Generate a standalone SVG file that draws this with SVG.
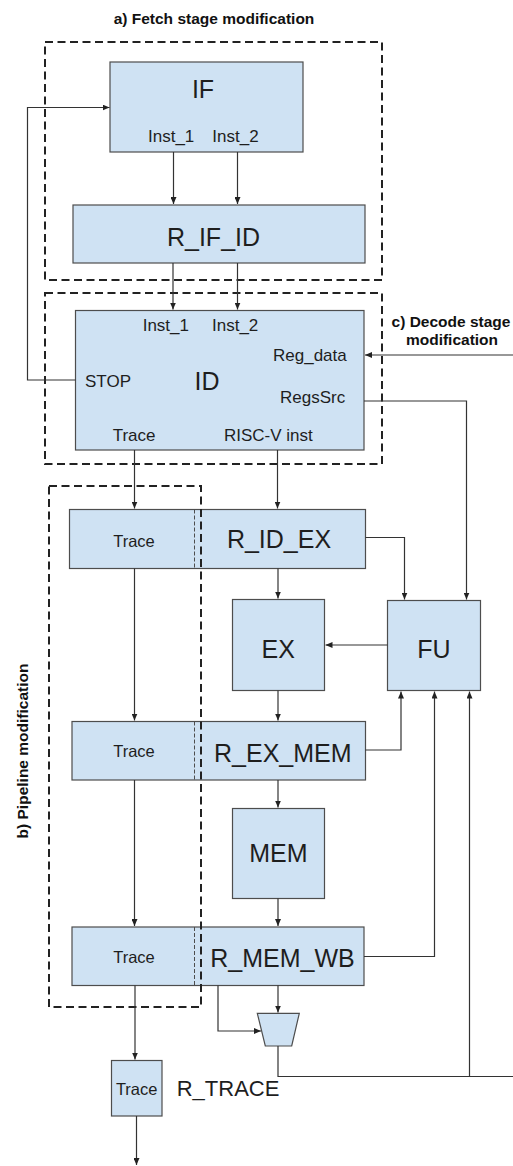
<svg xmlns="http://www.w3.org/2000/svg" width="513" height="1166" viewBox="0 0 513 1166">
<style>
.box{fill:#cfe2f3;stroke:#4d4d4d;stroke-width:1.2}
.div{stroke:#4d4d4d;stroke-width:1;stroke-dasharray:4 2;fill:none}
.grp{fill:none;stroke:#222;stroke-width:2;stroke-dasharray:8 4.5}
.ln{fill:none;stroke:#333;stroke-width:1.2}
.arr{marker-end:url(#ah)}
text{font-family:"Liberation Sans",Arial,sans-serif;fill:#1e1e1e}
.big{font-size:25px;text-anchor:middle}
.lbl{font-size:17px}
.tr{font-size:16.5px;text-anchor:middle}
.cap{font-size:15.5px;font-weight:bold;text-anchor:middle;fill:#111}
</style>
<defs>
<marker id="ah" markerUnits="userSpaceOnUse" markerWidth="7" markerHeight="6" refX="7" refY="3" orient="auto">
<path d="M0,0 L7,3 L0,6 z" fill="#222"/>
</marker>
</defs>
<rect width="513" height="1166" fill="#fff"/>

<g id="labels">
<text class="cap" x="214" y="24">a) Fetch stage modification</text>
<text class="cap" x="451" y="327.3">c) Decode stage</text>
<text class="cap" x="452" y="345">modification</text>
<text class="cap" transform="translate(28,751) rotate(-90)">b) Pipeline modification</text>
</g>

<g id="IF">
<rect class="box" x="110" y="62" width="193" height="90"/>
<text class="big" x="203" y="98">IF</text>
<text class="lbl" x="148" y="142">Inst_1</text>
<text class="lbl" x="212.3" y="142">Inst_2</text>
</g>

<g id="R_IF_ID">
<rect class="box" x="73" y="205" width="292" height="58"/>
<text class="big" x="213.5" y="246">R_IF_ID</text>
</g>

<g id="ID">
<rect class="box" x="75.5" y="310.5" width="288.5" height="139.5"/>
<text class="lbl" x="142.7" y="330.7">Inst_1</text>
<text class="lbl" x="212" y="330.7">Inst_2</text>
<text class="lbl" x="273" y="361">Reg_data</text>
<text class="lbl" x="85" y="386.7">STOP</text>
<text class="big" x="207" y="390">ID</text>
<text class="lbl" x="280" y="403">RegsSrc</text>
<text class="lbl" x="112.7" y="441">Trace</text>
<text class="lbl" x="224" y="441">RISC-V inst</text>
</g>

<g id="R_ID_EX">
<rect class="box" x="69.5" y="509.5" width="296" height="59"/>
<line class="div" x1="194.5" y1="509.5" x2="194.5" y2="568.5"/>
<text class="tr" x="134" y="546.7">Trace</text>
<text class="big" x="279" y="548">R_ID_EX</text>
</g>

<g id="EX">
<rect class="box" x="232.5" y="599.5" width="92" height="91"/>
<text class="big" x="278.3" y="658.3">EX</text>
</g>

<g id="FU">
<rect class="box" x="387.5" y="600.5" width="93" height="90"/>
<text class="big" x="434" y="658">FU</text>
</g>

<g id="R_EX_MEM">
<rect class="box" x="72" y="721.5" width="293.5" height="58.5"/>
<line class="div" x1="194.5" y1="721.5" x2="194.5" y2="780"/>
<text class="tr" x="134" y="757.3">Trace</text>
<text class="big" x="282.8" y="761.7">R_EX_MEM</text>
</g>

<g id="MEM">
<rect class="box" x="232.5" y="808.5" width="92" height="90"/>
<text class="big" x="278.3" y="862.3">MEM</text>
</g>

<g id="R_MEM_WB">
<rect class="box" x="72" y="927" width="292" height="58.5"/>
<line class="div" x1="194.5" y1="927" x2="194.5" y2="985.5"/>
<text class="tr" x="134" y="963.3">Trace</text>
<text class="big" x="282.5" y="966.7">R_MEM_WB</text>
</g>

<g id="MUX">
<polygon class="box" points="257.3,1013.3 299.3,1013.3 291.7,1046 265.3,1046"/>
</g>

<g id="R_TRACE">
<rect class="box" x="111.5" y="1060.5" width="50.5" height="55.5"/>
<text class="tr" x="136.7" y="1095">Trace</text>
<text x="176.7" y="1096" font-size="22">R_TRACE</text>
</g>

<g id="containers">
<rect class="grp" x="45" y="42" width="337" height="238"/>
<rect class="grp" x="45" y="293" width="337" height="171"/>
<rect class="grp" x="49" y="486" width="152" height="521"/>
</g>

<g id="connectors">
<path class="ln arr" d="M173.5,152 V204"/>
<path class="ln arr" d="M237.5,152 V204"/>
<path class="ln arr" d="M173,263 V309.5"/>
<path class="ln arr" d="M237.5,263 V309.5"/>
<path class="ln arr" d="M75.5,380 H27.5 V107.5 H109.5"/>
<path class="ln arr" d="M513,355 H365"/>
<path class="ln arr" d="M364,401 H466.5 V599.5"/>
<path class="ln arr" d="M134.5,450 V508.5"/>
<path class="ln arr" d="M277.5,450 V508.5"/>
<path class="ln arr" d="M365.5,537.5 H404.5 V599.5"/>
<path class="ln arr" d="M134.5,568.5 V720.5"/>
<path class="ln arr" d="M278,568.5 V598.5"/>
<path class="ln arr" d="M387.5,645 H325.5"/>
<path class="ln arr" d="M278,690.5 V720.5"/>
<path class="ln arr" d="M365.5,750 H401 V691.5"/>
<path class="ln arr" d="M278,780 V807.5"/>
<path class="ln arr" d="M134.5,780 V926"/>
<path class="ln arr" d="M278,898.5 V926"/>
<path class="ln arr" d="M364,956.5 H434.5 V691.5"/>
<path class="ln arr" d="M278,985.5 V1012.5"/>
<path class="ln arr" d="M218,985.5 V1031 H261"/>
<path class="ln" d="M278,1046 V1076.5 H513"/>
<path class="ln arr" d="M469.5,1076.5 V691.5"/>
<path class="ln arr" d="M135,985.5 V1059.5"/>
<path class="ln arr" d="M136.5,1116 V1165"/>
</g>
</svg>
